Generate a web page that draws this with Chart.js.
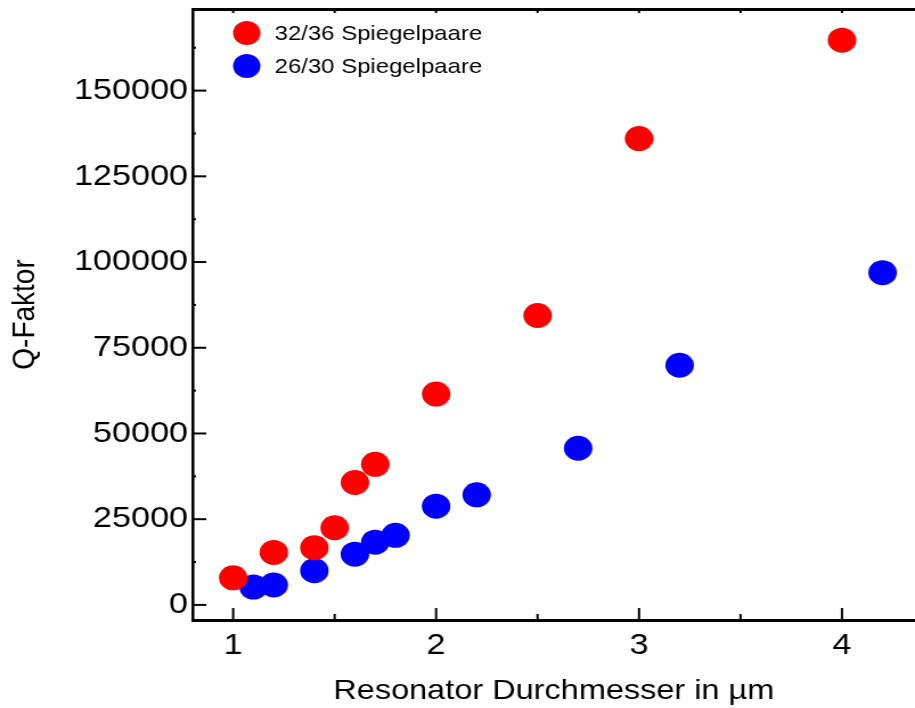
<!DOCTYPE html>
<html>
<head>
<meta charset="utf-8">
<script src="https://cdn.jsdelivr.net/npm/chart.js@4"></script>
<style>
  body { margin: 0; background: #fff; overflow: hidden; }
  #wrap { width: 803px; height: 708px; transform: scaleX(1.1395); transform-origin: 0 0; }
</style>
</head>
<body>
<div id="wrap">
  <canvas id="chart" width="803" height="708" style="width:803px;height:708px"></canvas>
</div>
<script>
// data
const redLabel = '32/36 Spiegelpaare'
const redX = [1, 1.2, 1.4, 1.5, 1.6, 1.7, 2, 2.5, 3, 4]
const redQ = [7900, 15300, 16700, 22500, 35700, 41000, 61500, 84400, 136000, 164700]

const blueLabel = '26/30 Spiegelpaare'
const blueX = [1.1, 1.2, 1.4, 1.6, 1.7, 1.8, 2, 2.2, 2.7, 3.2, 4.2]
const blueQ = [5200, 5800, 10000, 14800, 18300, 20300, 28800, 32100, 45700, 69900, 96900]

const xTicks = [1, 2, 3, 4]
const xMinor = [1.5, 2.5, 3.5]
const yTicks = [0, 25000, 50000, 75000, 100000, 125000, 150000]
const yMinor = [12500, 37500, 62500, 87500, 112500, 137500, 162500]

const FONT = '"Liberation Sans", Arial, sans-serif'

const toPoints = (xs, ys) => xs.map((x, i) => ({ x: x, y: ys[i] }))

// inner tick marks
const framePlugin = {
    id: 'frameTicks',
    afterDatasetsDraw(chart) {
        const c = chart.ctx
        const a = chart.chartArea
        const xs = chart.scales.x, ys = chart.scales.y
        c.save()
        c.strokeStyle = '#000'
        c.lineWidth = 2
        xTicks.forEach(v => {
            const p = xs.getPixelForValue(v)
            c.beginPath(); c.moveTo(p, a.bottom); c.lineTo(p, a.bottom - 12); c.stroke()
            c.beginPath(); c.moveTo(p, a.top); c.lineTo(p, a.top + 4); c.stroke()
        })
        xMinor.forEach(v => {
            const p = xs.getPixelForValue(v)
            c.beginPath(); c.moveTo(p, a.bottom); c.lineTo(p, a.bottom - 6); c.stroke()
            c.beginPath(); c.moveTo(p, a.top); c.lineTo(p, a.top + 4); c.stroke()
        })
        yTicks.forEach(v => {
            const p = ys.getPixelForValue(v)
            c.beginPath(); c.moveTo(a.left, p); c.lineTo(a.left + 12, p); c.stroke()
        })
        yMinor.forEach(v => {
            const p = ys.getPixelForValue(v)
            c.beginPath(); c.moveTo(a.left, p); c.lineTo(a.left + 3, p); c.stroke()
        })
        c.restore()
    }
}

// legend stacked inside the plot, top left
const legendPlugin = {
    id: 'innerLegend',
    afterDraw(chart) {
        const c = chart.ctx
        const rows = [33, 66]
        c.save()
        c.font = '21px ' + FONT
        c.textBaseline = 'middle'
        c.textAlign = 'left'
        chart.data.datasets.forEach((ds, i) => {
            const y = rows[i]
            c.fillStyle = ds.backgroundColor
            c.beginPath()
            c.arc(216.5, y, 12, 0, Math.PI * 2)
            c.fill()
            c.fillStyle = '#000'
            c.fillText(ds.label, 241, y + 1)
        })
        c.restore()
    }
}

new Chart(document.getElementById('chart'), {
    type: 'scatter',
    data: {
        datasets: [{
            label: redLabel,
            data: toPoints(redX, redQ),
            backgroundColor: '#ff0000',
            borderWidth: 0,
            pointRadius: 12.5,
            pointHoverRadius: 12.5
        }, {
            label: blueLabel,
            data: toPoints(blueX, blueQ),
            backgroundColor: '#0000ff',
            borderWidth: 0,
            pointRadius: 12.5,
            pointHoverRadius: 12.5
        }]
    },
    options: {
        responsive: false,
        animation: false,
        devicePixelRatio: 1,
        layout: { autoPadding: false, padding: { top: 9, left: 0, right: 0, bottom: 0 } },
        plugins: {
            legend: { display: false },
            tooltip: { enabled: false }
        },
        scales: {
            x: {
                type: 'linear',
                min: 0.8,
                max: 4.36,
                afterBuildTicks: scale => { scale.ticks = xTicks.map(v => ({ value: v })) },
                afterFit: scale => {
                    scale.height = 88
                    scale.paddingLeft = 0
                    scale.paddingRight = 0
                },
                grid: { display: false, drawTicks: false },
                border: { display: true, color: '#000', width: 3 },
                ticks: {
                    color: '#000',
                    padding: 8,
                    font: { family: FONT, size: 30 }
                },
                title: {
                    display: true,
                    text: 'Resonator Durchmesser in µm',
                    color: '#000',
                    padding: { top: 3, bottom: 0 },
                    font: { family: FONT, size: 28.5 }
                }
            },
            // top frame line, no labels
            xTop: {
                type: 'linear',
                axis: 'x',
                position: 'top',
                min: 0.8,
                max: 4.36,
                afterFit: scale => {
                    scale.height = 0
                    scale.paddingLeft = 0
                    scale.paddingRight = 0
                },
                grid: { display: false, drawTicks: false },
                border: { display: true, color: '#000', width: 3 },
                ticks: { display: false }
            },
            y: {
                type: 'linear',
                min: -4400,
                max: 173800,
                afterBuildTicks: scale => { scale.ticks = yTicks.map(v => ({ value: v })) },
                afterFit: scale => {
                    scale.width = 169
                    scale.paddingTop = 0
                    scale.paddingBottom = 0
                },
                grid: { display: false, drawTicks: false },
                border: { display: true, color: '#000', width: 2.6 },
                ticks: {
                    color: '#000',
                    padding: 4,
                    font: { family: FONT, size: 30 },
                    callback: v => String(v)
                },
                title: {
                    display: true,
                    text: 'Q-Faktor',
                    color: '#000',
                    padding: { top: 5, bottom: 0 },
                    font: { family: FONT, size: 28 }
                }
            }
        }
    },
    plugins: [framePlugin, legendPlugin]
})
</script>
</body>
</html>
